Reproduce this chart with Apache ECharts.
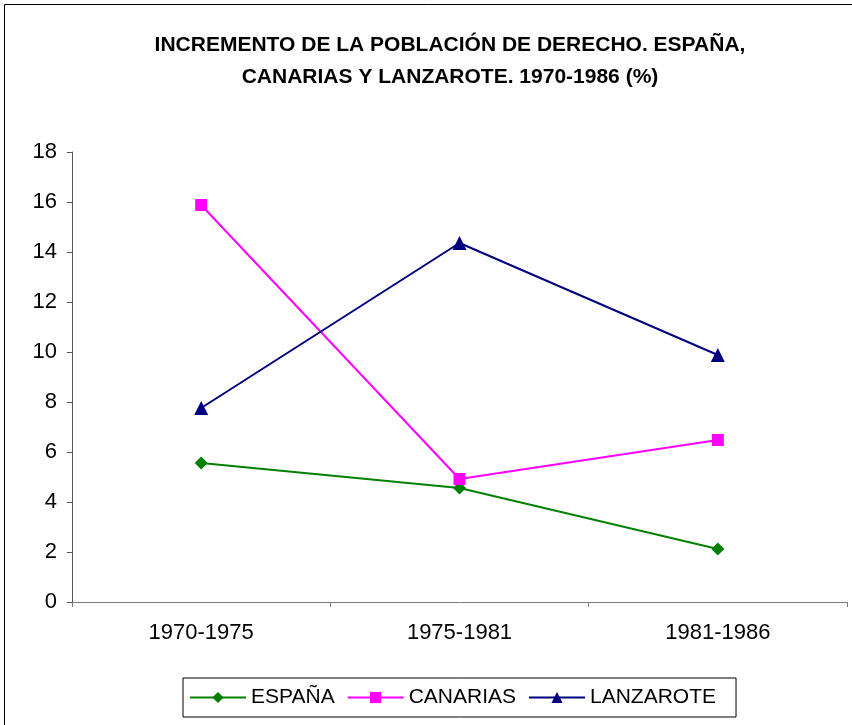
<!DOCTYPE html>
<html>
<head>
<meta charset="utf-8">
<script src="https://cdn.jsdelivr.net/npm/echarts@6/dist/echarts.min.js"></script>
<style>
  html, body { margin: 0; padding: 0; background: #fff; }
  #chart { width: 852px; height: 725px; }
</style>
</head>
<body>
<div id="chart"></div>
<script>
// Data
const periods = ['1970-1975', '1975-1981', '1981-1986'];
const espana = [5.56, 4.56, 2.12];
const canarias = [15.88, 4.92, 6.48];
const lanzarote = [7.76, 14.36, 9.88];
const yTicks = [0, 2, 4, 6, 8, 10, 12, 14, 16, 18];

const chart = echarts.init(document.getElementById('chart'), null, { renderer: 'canvas' });

const font = 'Liberation Sans, Arial, sans-serif';

chart.setOption({
  animation: false,
  backgroundColor: '#fff',
  textStyle: { fontFamily: font, color: '#000' },
  title: {
    text: 'INCREMENTO DE LA POBLACIÓN DE DERECHO. ESPAÑA,\nCANARIAS Y LANZAROTE. 1970-1986 (%)',
    left: 445,
    top: 24,
    textAlign: 'center',
    textStyle: { fontFamily: font, fontSize: 21, fontWeight: 'bold', color: '#000', lineHeight: 32 }
  },
  // outer chart frame
  graphic: [{
    type: 'rect',
    shape: { x: 4.5, y: 4.5, width: 852, height: 730 },
    style: { fill: 'none', stroke: '#000', lineWidth: 1 },
    silent: true
  }],
  legend: {
    left: 183,
    top: 678,
    padding: [9, 20, 9, 6],
    itemGap: 12,
    itemWidth: 56,
    itemHeight: 14,
    borderColor: '#000',
    borderWidth: 1,
    borderRadius: 0,
    textStyle: { fontFamily: font, fontSize: 21, color: '#000' },
    data: ['ESPAÑA', 'CANARIAS', 'LANZAROTE']
  },
  grid: { left: 72, right: 5, top: 152, bottom: 123, containLabel: false },
  xAxis: {
    type: 'category',
    data: periods,
    boundaryGap: true,
    axisLine: { lineStyle: { color: '#7a7a7a', width: 1 } },
    axisTick: { show: true, length: 5, lineStyle: { color: '#7a7a7a' } },
    axisLabel: { color: '#000', fontSize: 22, margin: 20, fontFamily: font },
    splitLine: { show: false }
  },
  yAxis: {
    type: 'value',
    min: 0,
    max: 18,
    interval: 2,
    axisLine: { show: true, lineStyle: { color: '#555', width: 1 } },
    axisTick: { show: true, length: 5, lineStyle: { color: '#555' } },
    axisLabel: {
      color: '#000', fontSize: 22, margin: 15, fontFamily: font,
      formatter: v => yTicks.includes(v) ? String(v) : ''
    },
    splitLine: { show: false }
  },
  series: [
    {
      name: 'ESPAÑA', type: 'line', data: espana,
      symbol: 'diamond', symbolSize: 13,
      lineStyle: { color: '#008000', width: 2 },
      itemStyle: { color: '#008000' }
    },
    {
      name: 'CANARIAS', type: 'line', data: canarias,
      symbol: 'rect', symbolSize: 12,
      lineStyle: { color: '#ff00ff', width: 2 },
      itemStyle: { color: '#ff00ff' }
    },
    {
      name: 'LANZAROTE', type: 'line', data: lanzarote,
      symbol: 'triangle', symbolSize: 14,
      lineStyle: { color: '#000080', width: 2 },
      itemStyle: { color: '#000080' }
    }
  ]
});
</script>
</body>
</html>
